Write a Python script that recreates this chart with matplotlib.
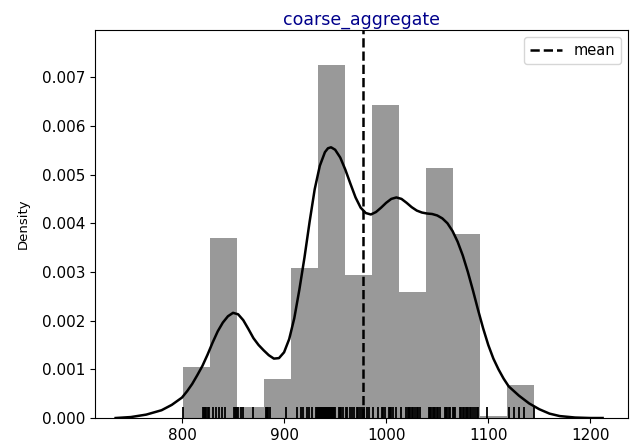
import matplotlib
matplotlib.use("Agg")
import matplotlib.pyplot as plt

# histogram bins (density) for coarse_aggregate
bin_edges = [801.0, 827.5, 853.9, 880.4, 906.8, 933.3, 959.8,
             986.2, 1012.7, 1039.2, 1065.6, 1092.1, 1118.5, 1145.0]
bar_density = [0.00104, 0.00370, 0.00022, 0.00081, 0.00308, 0.00725, 0.00293,
               0.00643, 0.00258, 0.00513, 0.00378, 0.00005, 0.00067]

# kernel density estimate
kde_x = [735, 750, 765, 780, 790, 800, 805, 810, 815, 820, 825, 830, 835, 840,
         845, 850, 855, 860, 865, 870, 875, 880, 885, 890, 895, 900, 905, 910,
         915, 920, 925, 930, 935, 940, 943, 946, 950, 955, 960, 965, 970, 975,
         980, 985, 990, 995, 1000, 1005, 1010, 1015, 1020, 1025, 1030, 1035,
         1040, 1045, 1050, 1055, 1060, 1065, 1070, 1075, 1080, 1085, 1090, 1095,
         1100, 1105, 1110, 1115, 1120, 1130, 1140, 1150, 1160, 1170, 1185, 1200,
         1212]
kde_y = [0.00000, 0.00002, 0.00007, 0.00016, 0.00027, 0.00042, 0.00055, 0.00070,
         0.00088, 0.00107, 0.00130, 0.00155, 0.00178, 0.00196, 0.00209, 0.00216,
         0.00213, 0.00201, 0.00183, 0.00164, 0.00150, 0.00139, 0.00129, 0.00122,
         0.00123, 0.00135, 0.00162, 0.00205, 0.00264, 0.00330, 0.00403, 0.00470,
         0.00518, 0.00546, 0.00554, 0.00556, 0.00551, 0.00535, 0.00510, 0.00481,
         0.00453, 0.00432, 0.00421, 0.00418, 0.00423, 0.00432, 0.00442, 0.00450,
         0.00453, 0.00450, 0.00442, 0.00433, 0.00426, 0.00422, 0.00420, 0.00419,
         0.00416, 0.00410, 0.00400, 0.00384, 0.00362, 0.00334, 0.00300, 0.00262,
         0.00222, 0.00184, 0.00150, 0.00122, 0.00100, 0.00081, 0.00065, 0.00046,
         0.00030, 0.00018, 0.00009, 0.00004, 0.00001, 0.00000, 0.00000]

# individual observations for the rug
rug_values = [801, 821, 822, 823, 824, 825, 826, 830, 833, 836, 839, 842, 851, 852,
              853, 854, 855, 858, 860, 870, 882, 883, 884, 886, 902, 913, 917, 919,
              922, 924, 927, 931, 932, 933, 934, 935, 936, 937, 938, 939, 940, 941,
              942, 943, 944, 945, 946, 947, 948, 949, 950, 954, 955, 956, 958, 961,
              962, 965, 967, 968, 971, 972, 974, 976, 978, 981, 983, 987, 992, 996,
              997, 999, 1003, 1004, 1005, 1007, 1010, 1015, 1019, 1021, 1022, 1023,
              1025, 1026, 1028, 1030, 1031, 1033, 1042, 1043, 1044, 1046, 1047, 1048,
              1050, 1051, 1053, 1058, 1059, 1060, 1062, 1063, 1065, 1066, 1067, 1072,
              1073, 1075, 1076, 1078, 1079, 1080, 1082, 1083, 1085, 1087, 1089, 1090,
              1099, 1120, 1125, 1130, 1135, 1145]

mean_value = 977.0

fig = plt.figure(figsize=(6.39, 4.43), dpi=100)
ax = fig.add_axes([0.149, 0.0564, 0.834, 0.876])

widths = [bin_edges[i + 1] - bin_edges[i] for i in range(len(bar_density))]
ax.bar(bin_edges[:-1], bar_density, width=widths, align="edge",
       color="#999999", linewidth=0)
ax.plot(kde_x, kde_y, color="black", linewidth=1.8, solid_joinstyle="round")
ax.vlines(rug_values, 0, 0.028, color="black", linewidth=1.3,
          transform=ax.get_xaxis_transform())
ax.axvline(mean_value, color="black", linestyle="--", linewidth=1.8, label="mean")

ax.set_xlim(715, 1237)
ax.set_ylim(0, 0.00797)
ax.set_xticks([800, 900, 1000, 1100, 1200])
ax.set_yticks([0.000, 0.001, 0.002, 0.003, 0.004, 0.005, 0.006, 0.007])
ax.set_yticklabels([f"{v:.3f}" for v in ax.get_yticks()])
ax.tick_params(labelsize=11)
ax.set_ylabel("Density", fontsize=9.5, labelpad=9)
ax.set_title("coarse_aggregate", color="darkblue", fontsize=12.5, pad=4)
ax.legend(loc="upper right", fontsize=10.5, handlelength=2.2)

fig.savefig("out.png", dpi=100)
